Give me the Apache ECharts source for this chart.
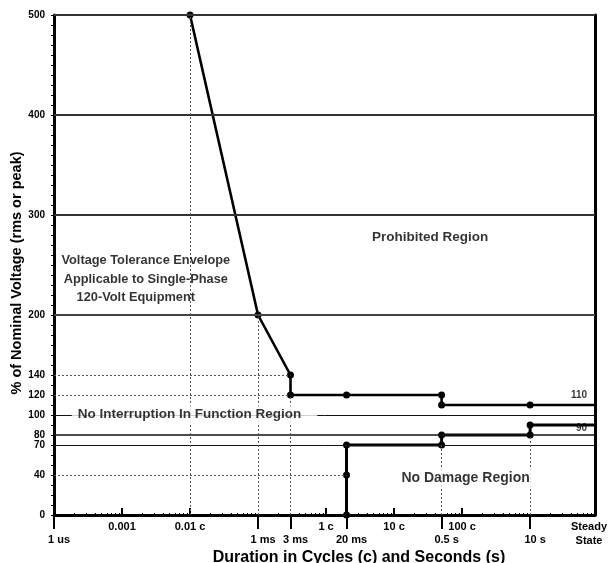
<!DOCTYPE html>
<html>
<head>
<meta charset="utf-8">
<title>ITIC curve</title>
<script src="https://cdn.jsdelivr.net/npm/echarts@6.0.0/dist/echarts.min.js"></script>
<style>
  html, body { margin: 0; padding: 0; background: #fff; }
  #chart { width: 608px; height: 563px; }
</style>
</head>
<body>
<div id="chart"></div>
<script>
// durations are in seconds, voltages in % of nominal
var steadySec = 90;

var upperTimes = [1e-4, 1e-3, 3e-3, 3e-3, 0.02, 0.5, 0.5, 10, steadySec];
var upperVolts = [500, 200, 140, 120, 120, 120, 110, 110, 110];

var lowerTimes = [0.02, 0.02, 0.02, 0.5, 0.5, 10, 10, steadySec];
var lowerVolts = [0, 40, 70, 70, 80, 80, 90, 90];

// seconds scale (long ticks below the axis)
var secLabels = ['1 us', '1 ms', '3 ms', '20 ms', '0.5 s', '10 s'];
var secValues = [1e-6, 1e-3, 3e-3, 0.02, 0.5, 10];

// cycles scale, where the drawing puts them
var cycLabels = ['0.001', '0.01 c', '1 c', '10 c', '100 c'];
var cycValues = [1e-5, 1e-4, 1e-2, 0.1, 1];

var yLabels = [0, 40, 70, 80, 100, 120, 140, 200, 300, 400, 500];

var FONT = '"Liberation Sans", Arial, sans-serif';
var lg = function (v) { return Math.log10(v); };
var xMin = lg(1e-6), xMax = lg(steadySec);

function pick(v, values, labels) {
    for (var i = 0; i < values.length; i++) {
        if (Math.abs(lg(values[i]) - v) < 1e-6) return labels[i];
    }
    return '';
}

function toPoints(times, volts) {
    return times.map(function (t, i) {
        return { value: [lg(t), volts[i]], symbol: t === steadySec ? 'none' : 'circle' };
    });
}

// log minor ticks for the small marks along the axis
var minorTicks = [];
for (var n = -6; n < 2; n++) {
    for (var k = 2; k <= 9; k++) {
        var mv = n + lg(k);
        if (mv < xMax) minorTicks.push(mv);
    }
}

var solid = function (y, w, c) {
    return { yAxis: y, lineStyle: { width: w, color: c, type: 'solid' } };
};
var dotStyle = { width: 1, color: '#555', type: [2, 2] };
var hDot = function (y, tEnd) {
    return [{ coord: [xMin, y], lineStyle: dotStyle }, { coord: [lg(tEnd), y] }];
};
var vDot = function (t, yTop) {
    return [{ coord: [lg(t), 0], lineStyle: dotStyle }, { coord: [lg(t), yTop] }];
};

var myChart = echarts.init(document.getElementById('chart'), null, { renderer: 'canvas' });

var option = {
    animation: false,
    backgroundColor: '#fff',
    textStyle: { fontFamily: FONT },
    grid: { left: 54, right: 13, top: 15, bottom: 48, containLabel: false, outerBoundsMode: 'none' },
    xAxis: [
        {
            type: 'value', min: xMin, max: xMax, position: 'bottom',
            axisLine: { show: true, onZero: false, lineStyle: { color: '#000', width: 3 } },
            axisTick: { show: true, customValues: secValues.map(lg), length: 14, lineStyle: { color: '#000', width: 2 } },
            axisLabel: {
                customValues: secValues.map(lg), margin: 19, color: '#000',
                fontSize: 11, fontWeight: 'bold', fontFamily: FONT, padding: [0, 0, 0, 10],
                formatter: function (v) { return pick(v, secValues, secLabels); }
            },
            splitLine: { show: false },
            name: 'Duration in Cycles (c) and Seconds (s)',
            nameLocation: 'middle', nameGap: 35, nameMoveOverlap: false,
            nameTextStyle: { color: '#000', fontSize: 16, fontWeight: 'bold', fontFamily: FONT, padding: [0, 0, 0, 69] }
        },
        {
            type: 'value', min: xMin, max: xMax, position: 'bottom',
            axisLine: { show: false, onZero: false },
            axisTick: { show: true, inside: true, customValues: cycValues.map(lg), length: 7, lineStyle: { color: '#000', width: 2 } },
            axisLabel: {
                customValues: cycValues.map(lg).concat([xMax]), margin: 5, color: '#000',
                fontSize: 11, fontWeight: 'bold', fontFamily: FONT, lineHeight: 14,
                formatter: function (v) {
                    if (Math.abs(v - xMax) < 1e-6) return '{ss|Steady}\n{ss|State}';
                    return pick(v, cycValues, cycLabels);
                },
                rich: { ss: { fontSize: 11, fontWeight: 'bold', fontFamily: FONT, color: '#000', lineHeight: 14, padding: [0, 12, 0, 0] } }
            },
            splitLine: { show: false }
        },
        {
            type: 'value', min: xMin, max: xMax, position: 'bottom',
            axisLine: { show: false, onZero: false },
            axisTick: { show: true, inside: true, customValues: minorTicks, length: 2, lineStyle: { color: '#000', width: 1 } },
            axisLabel: { show: false },
            splitLine: { show: false }
        }
    ],
    yAxis: [
        {
            type: 'value', min: 0, max: 500, interval: 10, position: 'left',
            axisLine: { show: true, onZero: false, lineStyle: { color: '#000', width: 3 } },
            axisTick: { show: true, length: 3, lineStyle: { color: '#000', width: 1 } },
            axisLabel: {
                customValues: yLabels, margin: 9, color: '#000',
                fontSize: 10, fontWeight: 'bold', fontFamily: FONT
            },
            splitLine: { show: false },
            name: '% of Nominal Voltage (rms or peak)',
            nameLocation: 'middle', nameGap: 30, nameMoveOverlap: false,
            nameTextStyle: { color: '#000', fontSize: 14.5, fontWeight: 'bold', fontFamily: FONT, padding: [0, 16, 0, 0] }
        },
        {
            type: 'value', min: 0, max: 500, position: 'right',
            axisLine: { show: true, onZero: false, lineStyle: { color: '#000', width: 3 } },
            axisTick: { show: false }, axisLabel: { show: false }, splitLine: { show: false }
        }
    ],
    series: [
        {
            type: 'line', data: [], z: 1, silent: true,
            markLine: {
                silent: true, symbol: ['none', 'none'], label: { show: false },
                data: [
                    solid(500, 2, '#333'), solid(400, 2, '#333'), solid(300, 2, '#333'), solid(200, 2, '#444'),
                    solid(100, 1, '#111'), solid(80, 1.7, '#111'), solid(70, 1, '#111'),
                    hDot(140, 3e-3), hDot(120, 3e-3), hDot(40, 0.02),
                    vDot(1e-4, 500), vDot(1e-3, 200), vDot(3e-3, 120), vDot(0.5, 70), vDot(10, 80)
                ]
            }
        },
        {
            name: 'upper', type: 'line', z: 3,
            data: toPoints(upperTimes, upperVolts),
            symbolSize: 7,
            lineStyle: { color: '#000', width: 2.6 },
            itemStyle: { color: '#000' }
        },
        {
            name: 'lower', type: 'line', z: 3,
            data: toPoints(lowerTimes, lowerVolts),
            symbolSize: 7,
            lineStyle: { color: '#000', width: 3 },
            itemStyle: { color: '#000' }
        },
        {
            type: 'scatter', z: 5, silent: true, symbolSize: 1,
            itemStyle: { color: 'rgba(0,0,0,0)' },
            label: {
                show: true, position: 'inside', color: '#000',
                fontFamily: FONT, fontWeight: 'bold', fontSize: 13
            },
            data: [
                { value: [-0.469, 278], label: { formatter: 'Prohibited Region', fontSize: 13.5 } },
                {
                    value: [-4.65, 236],
                    label: {
                        formatter: '{a|Voltage Tolerance Envelope}\n{a|Applicable to Single-Phase}\n{b|120-Volt Equipment}',
                        rich: {
                            a: { fontFamily: FONT, fontWeight: 'bold', fontSize: 12.8, lineHeight: 18.5, color: '#000' },
                            b: { fontFamily: FONT, fontWeight: 'bold', fontSize: 12.8, lineHeight: 18.5, color: '#000', padding: [0, 20, 0, 0] }
                        }
                    }
                },
                {
                    value: [-3.934, 100.5],
                    label: { formatter: 'No Interruption In Function Region', fontSize: 13.5, backgroundColor: '#fff', padding: [2, 16, 2, 6] }
                },
                {
                    value: [0.051, 37],
                    label: { formatter: 'No Damage Region', fontSize: 14, backgroundColor: '#fff', padding: [4, 4, 4, 4] }
                },
                { value: [1.838, 120], label: { formatter: '110', fontSize: 10, align: 'right' } },
                { value: [1.838, 87], label: { formatter: '90', fontSize: 10, align: 'right' } }
            ]
        }
    ]
};

myChart.setOption(option);
</script>
</body>
</html>
